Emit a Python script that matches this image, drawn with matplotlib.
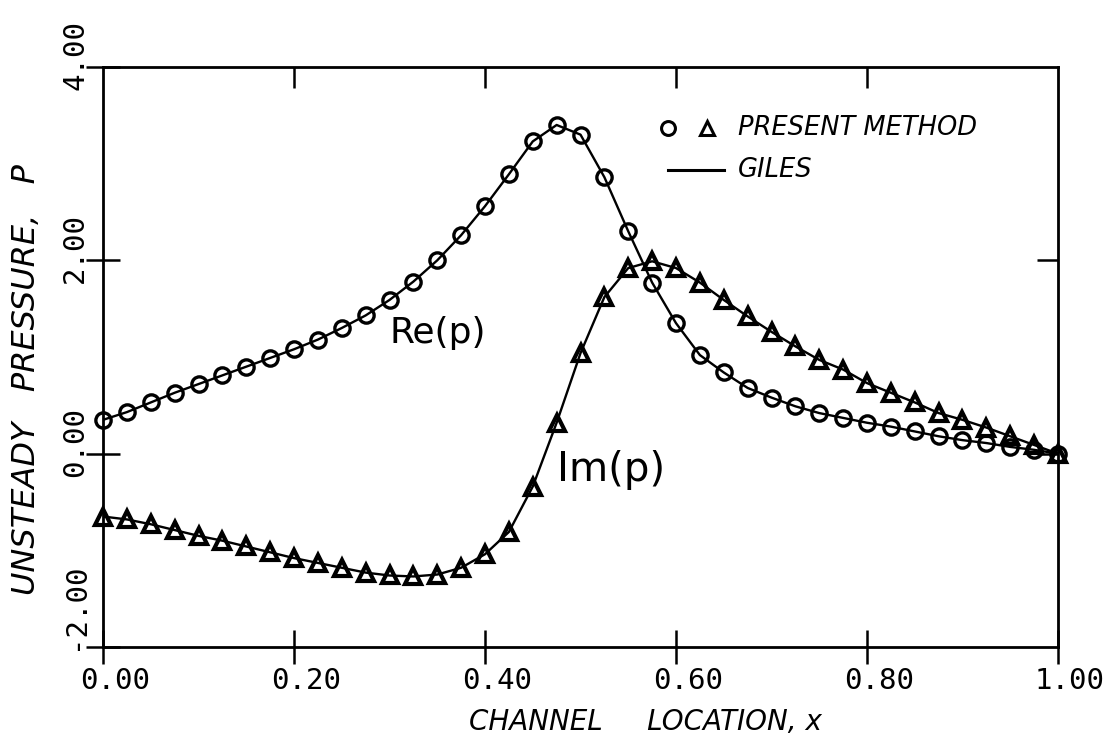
import numpy as np
import matplotlib
matplotlib.use("Agg")
import matplotlib.pyplot as plt
import matplotlib.transforms as mtransforms

# channel location (sample points of both computations)
x_loc = [0.0, 0.025, 0.05, 0.075, 0.1, 0.125, 0.15, 0.175, 0.2, 0.225,
         0.25, 0.275, 0.3, 0.325, 0.35, 0.375, 0.4, 0.425, 0.45, 0.475,
         0.5, 0.525, 0.55, 0.575, 0.6, 0.625, 0.65, 0.675, 0.7, 0.725,
         0.75, 0.775, 0.8, 0.825, 0.85, 0.875, 0.9, 0.925, 0.95, 0.975, 1.0]

re_p = [0.35, 0.43, 0.53, 0.63, 0.72, 0.81, 0.90, 0.99, 1.08, 1.18,
        1.30, 1.43, 1.59, 1.78, 2.00, 2.26, 2.56, 2.89, 3.23, 3.40,
        3.30, 2.86, 2.30, 1.77, 1.35, 1.02, 0.84, 0.68, 0.58, 0.49,
        0.42, 0.37, 0.32, 0.28, 0.23, 0.18, 0.14, 0.11, 0.07, 0.04, 0.0]

im_p = [-0.65, -0.68, -0.73, -0.79, -0.85, -0.90, -0.96, -1.02, -1.08, -1.13,
        -1.18, -1.23, -1.26, -1.27, -1.25, -1.18, -1.04, -0.81, -0.34, 0.32,
        1.04, 1.62, 1.92, 1.99, 1.92, 1.77, 1.59, 1.42, 1.26, 1.11,
        0.97, 0.87, 0.73, 0.63, 0.53, 0.42, 0.35, 0.27, 0.18, 0.09, 0.0]

x_ticks = [0.0, 0.2, 0.4, 0.6, 0.8, 1.0]
x_ticklabels = ["0.00", "0.20", "0.40", "0.60", "0.80", "1.00"]
y_ticks = [-2.0, 0.0, 2.0, 4.0]
y_ticklabels = ["-2.00", "0.00", "2.00", "4.00"]

mono = "DejaVu Sans Mono"

fig = plt.figure(figsize=(11.03, 7.55), dpi=100)
ax = fig.add_axes([0.0934, 0.1430, 0.8658, 0.7683])

# Giles (solid lines)
ax.plot(x_loc, re_p, color="black", lw=1.7, zorder=2)
ax.plot(x_loc, im_p, color="black", lw=1.7, zorder=2)
# present method (symbols)
ax.plot(x_loc, re_p, "o", ms=11, mfc="none", mec="black", mew=2.4, zorder=3, clip_on=False)
ax.plot(x_loc, im_p, "^", ms=11, mfc="none", mec="black", mew=3.0, zorder=3, clip_on=False)

ax.set_xlim(0, 1)
ax.set_ylim(-2, 4)
for s in ax.spines.values():
    s.set_linewidth(2.0)

ax.set_xticks(x_ticks)
ax.set_yticks(y_ticks)
ax.set_xticklabels([])
ax.set_yticklabels([])
ax.tick_params(direction="inout", length=24, width=1.8)

top = ax.secondary_xaxis("top")
top.set_xticks(x_ticks[1:-1])
top.set_xticklabels([])
top.tick_params(direction="in", length=15, width=1.8)
right = ax.secondary_yaxis("right")
right.set_yticks([0.0, 2.0])
right.set_yticklabels([])
right.tick_params(direction="in", length=15, width=1.8)

# tick labels, plotter style
for xv, lab in zip(x_ticks, x_ticklabels):
    tr = mtransforms.offset_copy(ax.get_xaxis_transform(), fig=fig, x=-23, y=-20, units="dots")
    ax.text(xv, 0, lab, transform=tr, ha="left", va="top", fontsize=21,
            family=mono, clip_on=False)
for yv, lab in zip(y_ticks, y_ticklabels):
    dy = -3 if yv == -2.0 else -23
    tr = mtransforms.offset_copy(ax.get_yaxis_transform(), fig=fig, x=-28, y=dy, units="dots")
    ax.text(0, yv, lab, transform=tr, ha="center", va="bottom", rotation=90,
            fontsize=21, family=mono, clip_on=False)

# axis titles
fig.text(645 / 1103, 1 - 722 / 755, "CHANNEL     LOCATION, x", ha="center", va="center",
         fontsize=20, style="italic")
fig.text(27 / 1103, 1 - 380 / 755, "UNSTEADY   PRESSURE,   P", ha="center", va="center",
         fontsize=23, style="italic", rotation=90)

# legend drawn by hand like the original
ax.plot([0.592], [3.37], "o", ms=10, mfc="none", mec="black", mew=2.2, clip_on=False)
ax.plot([0.632], [3.37], "^", ms=10, mfc="none", mec="black", mew=2.2, clip_on=False)
ax.text(0.665, 3.37, "PRESENT METHOD", fontsize=18.5, style="italic", va="center")
ax.plot([0.592, 0.650], [2.93, 2.93], color="black", lw=2.2)
ax.text(0.665, 2.93, "GILES", fontsize=18.5, style="italic", va="center")

# curve annotations
ax.text(0.30, 1.25, "Re(p)", fontsize=26, va="center", ha="left")
ax.text(0.475, -0.17, "Im(p)", fontsize=29, va="center", ha="left")

fig.savefig("out.png", dpi=100)
